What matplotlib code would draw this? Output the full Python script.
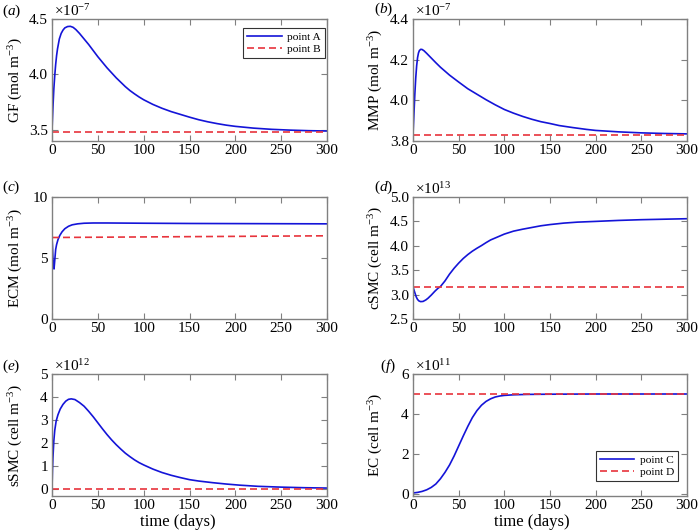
import matplotlib
matplotlib.use("Agg")
import matplotlib.pyplot as plt

plt.rcParams['font.family'] = ['Liberation Serif', 'DejaVu Serif']
plt.rcParams['mathtext.fontset'] = 'custom'
plt.rcParams['mathtext.rm'] = 'Liberation Serif'
plt.rcParams['mathtext.it'] = 'Liberation Serif:italic'
plt.rcParams['axes.unicode_minus'] = True

# ---------------- data (values in units of the axis multiplier) ----------------
# (a) GF, x1e-7
gf_t = [0, 0.5, 1, 2, 3, 4, 5, 6, 8, 10, 12, 14, 17, 20, 23, 26, 30, 35, 40, 45,
        50, 55, 60, 65, 70, 75, 80, 85, 90, 95, 100, 110, 120, 130, 140, 150,
        160, 170, 180, 190, 200, 220, 240, 260, 280, 300]
gf_A = [3.49, 3.6, 3.7, 3.87, 3.99, 4.09, 4.17, 4.23, 4.32, 4.37, 4.40, 4.42,
        4.432, 4.434, 4.425, 4.405, 4.37, 4.32, 4.27, 4.215, 4.16, 4.11, 4.06,
        4.015, 3.97, 3.93, 3.89, 3.855, 3.825, 3.797, 3.772, 3.73, 3.695,
        3.665, 3.64, 3.615, 3.592, 3.573, 3.557, 3.543, 3.532, 3.516, 3.505,
        3.498, 3.493, 3.49]
gf_B = 3.477

# (b) MMP, x1e-7
mmp_t = [0, 0.5, 1, 2, 3, 4, 5, 6, 7, 8.5, 10, 12, 15, 20, 25, 30, 40, 50, 60,
         70, 80, 90, 100, 110, 120, 130, 140, 150, 160, 175, 190, 200, 225,
         250, 275, 300]
mmp_A = [3.83, 3.88, 3.93, 4.03, 4.11, 4.17, 4.21, 4.233, 4.245, 4.251, 4.25,
         4.244, 4.231, 4.208, 4.185, 4.163, 4.124, 4.09, 4.057, 4.03, 4.003,
         3.978, 3.955, 3.937, 3.921, 3.907, 3.895, 3.886, 3.876, 3.866, 3.857,
         3.852, 3.845, 3.84, 3.837, 3.835]
mmp_B = 3.831

# (c) ECM
ecm_t = [0, 0.5, 1, 1.5, 2.2, 3, 4, 5, 6.5, 8.5, 11, 14, 18, 22, 28, 35, 45, 60,
         100, 150, 200, 250, 300]
ecm_A = [6.7, 6.0, 5.0, 4.4, 4.1, 4.8, 5.7, 6.1, 6.5, 6.85, 7.15, 7.4, 7.6, 7.72,
         7.8, 7.85, 7.87, 7.87, 7.85, 7.83, 7.82, 7.81, 7.8]
ecm_B_t = [0, 300]
ecm_B = [6.68, 6.82]

# (d) cSMC, x1e13
csmc_t = [0, 1, 2, 3.6, 5, 6.5, 8.4, 11, 14, 16.4, 20, 24, 27.4, 30, 35, 40, 45,
          50, 55, 60, 65, 70, 75, 80, 85, 90, 95, 100, 110, 120, 130, 140, 150,
          165, 180, 200, 225, 250, 275, 300]
csmc_A = [3.16, 3.1, 3.04, 2.95, 2.9, 2.87, 2.856, 2.86, 2.89, 2.925, 2.99,
          3.07, 3.13, 3.164, 3.28, 3.42, 3.54, 3.645, 3.74, 3.82, 3.89, 3.95,
          4.005, 4.065, 4.12, 4.16, 4.2, 4.24, 4.3, 4.34, 4.375, 4.41, 4.435,
          4.465, 4.485, 4.50, 4.52, 4.535, 4.545, 4.555]
csmc_B = 3.164

# (e) sSMC, x1e12
ssmc_t = [0, 0.5, 1, 2, 3, 4.5, 6.5, 9, 12, 15, 18, 21, 25, 30, 35, 40, 45, 50,
          55, 60, 65, 70, 75, 80, 85, 90, 95, 100, 110, 120, 130, 140, 150, 160,
          175, 190, 205, 225, 250, 275, 300]
ssmc_A = [0.0, 0.8, 1.35, 2.1, 2.55, 2.95, 3.23, 3.48, 3.68, 3.82, 3.9, 3.92,
          3.89, 3.76, 3.6, 3.38, 3.14, 2.88, 2.62, 2.37, 2.14, 1.93, 1.74, 1.56,
          1.41, 1.27, 1.15, 1.05, 0.87, 0.72, 0.6, 0.5, 0.41, 0.35, 0.28, 0.22,
          0.17, 0.12, 0.085, 0.06, 0.045]
ssmc_B = 0.0

# (f) EC, x1e11
ec_t = [0, 5, 10, 15, 20, 25, 30, 35, 40, 45, 50, 55, 60, 65, 70, 75, 80, 85,
        90, 95, 100, 110, 125, 150, 200, 300]
ec_C = [0.05, 0.08, 0.13, 0.21, 0.33, 0.5, 0.76, 1.08, 1.45, 1.9, 2.4, 2.9,
        3.38, 3.82, 4.17, 4.44, 4.63, 4.76, 4.85, 4.9, 4.93, 4.96, 4.98, 4.99,
        5.0, 5.0]
ec_D = 5.0

x_ticks = [0, 50, 100, 150, 200, 250, 300]

# ---------------- figure ----------------
W, H = 698, 532
fig = plt.figure(figsize=(W / 100, H / 100), dpi=100)

blue = '#1414d8'
red = '#e8343c'
frame = '#808080'
fs_tick = 11
fs_ylab = 11
fs_xlab = 12
fs_leg = 8.2
lw = 1.2
dash = (4.2, 2.4)

cols = [(52, 327), (413, 687)]
rows = [(19, 141), (197, 319), (374, 496)]


def make_ax(r, c):
    (x0, x1), (y0, y1) = cols[c], rows[r]
    return fig.add_axes([x0 / W, 1 - y1 / H, (x1 - x0) / W, (y1 - y0) / H])


def style(ax, ylim, yticks, ylabels, ylabel, mult, label_x):
    ax.set_xlim(0, 300)
    ax.set_ylim(*ylim)
    ax.set_xticks(x_ticks)
    ax.set_xticklabels([str(v) for v in x_ticks])
    ax.set_yticks(yticks)
    ax.set_yticklabels(ylabels)
    ax.tick_params(direction='in', length=4, width=0.8, color=frame,
                   labelsize=fs_tick, top=True, right=True, pad=3)
    ax.tick_params(axis='x', pad=2.5)
    for s in ax.spines.values():
        s.set_color(frame)
        s.set_linewidth(1.0)
    ax.set_ylabel(ylabel, fontsize=fs_ylab)
    ax.yaxis.set_label_coords(label_x, 0.5)
    if mult is not None:
        ax.text(0.008, 1.0, r'$\times10^{%s}$' % mult, transform=ax.transAxes,
                ha='left', va='bottom', fontsize=fs_tick)


def legend(ax, loc, anchor):
    leg = ax.legend(loc=loc, bbox_to_anchor=anchor, fontsize=fs_leg,
                    frameon=True, fancybox=False, edgecolor='black',
                    handlelength=3.0, borderpad=0.35, labelspacing=0.15,
                    handletextpad=0.5, borderaxespad=0.0)
    leg.get_frame().set_linewidth(0.8)


# (a)
ax = make_ax(0, 0)
ax.plot(gf_t, gf_A, color=blue, lw=lw, label='point A')
ax.axhline(gf_B, color=red, lw=lw, dashes=dash, label='point B')
style(ax, (3.4, 4.5), [3.5, 4.0, 4.5], ['3.5', '4.0', '4.5'],
      r'GF (mol m$^{-3}$)', '-7', -0.097)
legend(ax, 'upper right', (0.993, 0.926))

# (b)
ax = make_ax(0, 1)
ax.plot(mmp_t, mmp_A, color=blue, lw=lw)
ax.axhline(mmp_B, color=red, lw=lw, dashes=dash)
style(ax, (3.8, 4.4), [3.8, 4.0, 4.2, 4.4], ['3.8', '4.0', '4.2', '4.4'],
      r'MMP (mol m$^{-3}$)', '-7', -0.103)

# (c)
ax = make_ax(1, 0)
ax.plot(ecm_t, ecm_A, color=blue, lw=lw)
ax.plot(ecm_B_t, ecm_B, color=red, lw=lw, dashes=dash)
style(ax, (0, 10), [0, 5, 10], ['0', '5', '10'],
      r'ECM (mol m$^{-3}$)', None, -0.097)

# (d)
ax = make_ax(1, 1)
ax.plot(csmc_t, csmc_A, color=blue, lw=lw)
ax.axhline(csmc_B, color=red, lw=lw, dashes=dash)
style(ax, (2.5, 5.0), [2.5, 3.0, 3.5, 4.0, 4.5, 5.0],
      ['2.5', '3.0', '3.5', '4.0', '4.5', '5.0'],
      r'cSMC (cell m$^{-3}$)', '13', -0.103)

# (e)
ax = make_ax(2, 0)
ax.plot(ssmc_t, ssmc_A, color=blue, lw=lw)
ax.axhline(ssmc_B, color=red, lw=lw, dashes=dash)
style(ax, (-0.3, 5), [0, 1, 2, 3, 4, 5], ['0', '1', '2', '3', '4', '5'],
      r'sSMC (cell m$^{-3}$)', '12', -0.097)
ax.set_xlabel('time (days)', fontsize=fs_xlab)
ax.xaxis.set_label_coords(0.458, -0.148)

# (f)
ax = make_ax(2, 1)
ax.plot(ec_t, ec_C, color=blue, lw=lw, label='point C')
ax.axhline(ec_D, color=red, lw=lw, dashes=dash, label='point D')
style(ax, (-0.1, 6), [0, 2, 4, 6], ['0', '2', '4', '6'],
      r'EC (cell m$^{-3}$)', '11', -0.103)
ax.set_xlabel('time (days)', fontsize=fs_xlab)
ax.xaxis.set_label_coords(0.434, -0.148)
legend(ax, 'lower right', (0.967, 0.124))

# panel letters
for letter, (px, py) in zip('abcdef', [(2, 11), (374, 9), (2, 187),
                                       (374, 187), (2, 366), (380, 366)]):
    fig.text(px / W, 1 - py / H, r'($\mathit{%s}$)' % letter, ha='left',
             va='center', fontsize=11)

fig.savefig('out.png', dpi=100)
